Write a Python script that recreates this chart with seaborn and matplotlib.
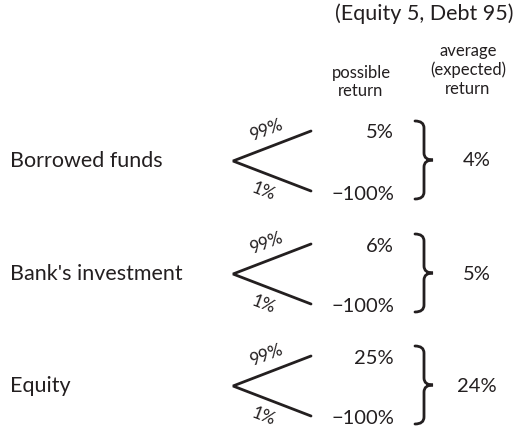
import numpy as np
import matplotlib.pyplot as plt
import seaborn as sns
from matplotlib.path import Path
from matplotlib.patches import PathPatch

# data
labels = ["Borrowed funds", "Bank's investment", "Equity"]
up_prob = ["99%", "99%", "99%"]
down_prob = ["1%", "1%", "1%"]
up_return = ["5%", "6%", "25%"]
down_return = ["\u2212100%", "\u2212100%", "\u2212100%"]
expected = ["4%", "5%", "24%"]
title = "(Equity 5, Debt 95)"

sns.set_theme(style="white")
plt.rcParams['font.family'] = ['Lato', 'DejaVu Sans']
ink = '#231f20'

fig = plt.figure(figsize=(5.17, 4.28), dpi=100)
ax = fig.add_axes([0, 0, 1, 1])
ax.set_xlim(0, 517)
ax.set_ylim(428, 0)
ax.axis('off')

# headers
ax.text(424, 14, title, ha='center', va='center', fontsize=15.5, color=ink)
ax.text(361, 82, "possible\nreturn", ha='center', va='center', fontsize=12,
        color=ink, linespacing=1.2)
ax.text(468, 70, "average\n(expected)\nreturn", ha='center', va='center',
        fontsize=12, color=ink, linespacing=1.2)

row_y = [161, 274, 386]
x0, x1 = 233, 311
dy = 30

def brace(x, ytop, ybot, width=18):
    ym = (ytop + ybot) / 2
    xv = x + width * 0.5
    xt = x + width
    c = 7
    verts = [(x, ytop), (xv, ytop), (xv, ytop + c), (xv, ytop + c + 2),
             (xv, ym - c), (xv, ym), (xt, ym),
             (xv, ym), (xv, ym + c), (xv, ybot - c - 2),
             (xv, ybot - c), (xv, ybot), (x, ybot)]
    codes = [Path.MOVETO, Path.CURVE3, Path.CURVE3, Path.LINETO,
             Path.LINETO, Path.CURVE3, Path.CURVE3,
             Path.CURVE3, Path.CURVE3, Path.LINETO,
             Path.LINETO, Path.CURVE3, Path.CURVE3]
    ax.add_patch(PathPatch(Path(verts, codes), fill=False, lw=2,
                           edgecolor=ink, capstyle='round'))

ang = np.degrees(np.arctan2(dy, x1 - x0))
for i, y in enumerate(row_y):
    ax.text(10, y, labels[i], ha='left', va='center', fontsize=15.5, color=ink)
    ax.plot([x1, x0, x1], [y - dy, y, y + dy], color=ink, lw=2,
            solid_joinstyle='miter')
    ax.text(266, y - 31, up_prob[i], ha='center', va='center', fontsize=12.5,
            rotation=ang, color=ink)
    ax.text(264, y + 31, down_prob[i], ha='center', va='center', fontsize=12.5,
            rotation=-ang, color=ink)
    ax.text(394, y - 28, up_return[i], ha='right', va='center', fontsize=14.5,
            color=ink)
    ax.text(394, y + 33, down_return[i], ha='right', va='center', fontsize=14.5,
            color=ink)
    brace(415, y - 40, y + 38)
    ax.text(477, y, expected[i], ha='center', va='center', fontsize=14.5,
            color=ink)

fig.savefig('out.png', dpi=100)
